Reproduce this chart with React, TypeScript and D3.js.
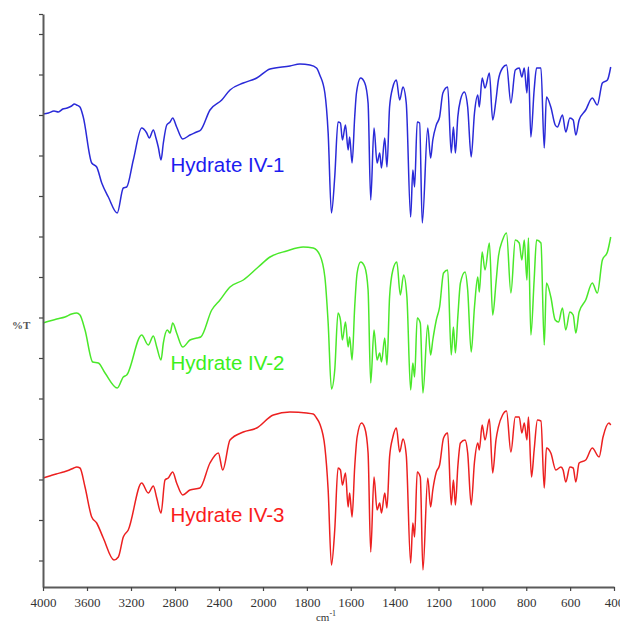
import React, { useEffect, useRef } from 'react';
import * as d3 from 'd3';

const W = 620;
const H = 623;

const xTicks = [4000, 3600, 3200, 2800, 2400, 2000, 1800, 1600, 1400, 1200, 1000, 800, 600, 400];
const seriesNames = ['Hydrate IV-1', 'Hydrate IV-2', 'Hydrate IV-3'];
const lineColors = ['#2a2ad8', '#4ae82a', '#ec2020'];
const textColors = ['#1c1cf0', '#3cf01c', '#fa1c1c'];

// [wavenumber (cm-1), %T (arbitrary, stacked)]
const spectrum1: [number, number][] = [
  [4000,473],[3950,474],[3900,476],[3860,475],[3820,478],[3780,479],[3740,481],[3715,483],[3694,482],[3664,480],[3634,470],[3557,424],[3512,420],[3466,404],[3406,390],[3325,374],[3270,399],[3239,400],[3179,427],[3103,459],[3057,454],[3034,449],[2997,457],[2973,449],[2952,440],[2927,427],[2906,444],[2875,462],[2845,465],[2821,469],[2785,460],[2730,448],[2664,452],[2603,455],[2566,457],[2482,477],[2375,487],[2300,497],[2179,504],[2057,509],[1968,518],[1877,521],[1832,523],[1786,522],[1756,519],[1741,512],[1718,494],[1703,454],[1688,374],[1673,410],[1658,465],[1647,464],[1638,447],[1624,462],[1612,437],[1605,450],[1594,424],[1582,470],[1574,494],[1555,509],[1536,504],[1521,484],[1509,387],[1494,459],[1480,424],[1468,434],[1460,419],[1445,449],[1435,420],[1423,480],[1408,500],[1392,507],[1377,487],[1362,500],[1347,484],[1327,370],[1317,417],[1309,400],[1297,465],[1286,464],[1274,364],[1249,459],[1236,429],[1226,447],[1210,462],[1195,470],[1180,494],[1158,500],[1142,434],[1132,460],[1123,434],[1112,470],[1100,487],[1082,495],[1067,480],[1051,430],[1036,474],[1021,492],[1014,480],[1001,509],[988,499],[968,514],[953,467],[938,487],[927,507],[908,519],[890,522],[870,484],[850,517],[832,519],[820,510],[809,519],[797,494],[790,520],[779,450],[764,497],[753,519],[733,519],[718,439],[708,490],[688,480],[668,462],[658,460],[635,472],[620,455],[601,469],[586,467],[574,452],[559,467],[529,477],[499,489],[476,482],[453,504],[430,507],[415,520]
];

const spectrum2: [number, number][] = [
  [4000,264],[3940,266],[3875,268],[3800,270],[3740,273],[3694,274],[3664,272],[3618,257],[3548,225],[3497,224],[3436,214],[3325,199],[3270,210],[3239,212],[3103,252],[3043,242],[2997,251],[2966,240],[2927,227],[2906,244],[2870,257],[2845,254],[2821,264],[2785,254],[2730,240],[2664,247],[2603,249],[2566,250],[2466,277],[2391,287],[2300,300],[2179,307],[2043,320],[1968,330],[1892,336],[1817,340],[1771,339],[1741,332],[1718,310],[1703,264],[1688,198],[1673,217],[1658,274],[1647,267],[1638,247],[1624,265],[1612,240],[1605,250],[1594,227],[1582,280],[1571,314],[1555,325],[1536,320],[1521,297],[1509,204],[1494,257],[1480,227],[1468,234],[1460,225],[1445,249],[1435,222],[1423,290],[1408,317],[1390,325],[1374,292],[1359,312],[1344,290],[1327,197],[1317,224],[1309,210],[1297,269],[1283,264],[1271,194],[1249,262],[1236,232],[1226,247],[1210,267],[1195,280],[1177,314],[1158,317],[1142,232],[1132,260],[1123,234],[1112,270],[1100,304],[1079,315],[1067,297],[1051,235],[1036,280],[1021,310],[1014,295],[1001,335],[988,317],[968,344],[953,272],[938,304],[927,330],[908,347],[890,354],[870,294],[850,347],[832,344],[820,327],[809,347],[797,307],[790,349],[779,252],[764,307],[753,347],[733,344],[718,242],[708,304],[688,290],[668,267],[653,265],[635,279],[620,257],[601,275],[586,272],[574,254],[559,275],[529,287],[499,304],[476,294],[453,327],[430,335],[415,350]
];

const spectrum3: [number, number][] = [
  [4000,109],[3940,111],[3880,113],[3815,115],[3760,117],[3720,119],[3694,120],[3664,119],[3618,100],[3557,70],[3512,64],[3452,49],[3355,27],[3315,30],[3270,50],[3225,57],[3103,104],[3043,94],[2997,101],[2966,89],[2927,74],[2891,107],[2861,109],[2821,115],[2785,104],[2730,92],[2664,97],[2573,99],[2482,124],[2406,134],[2366,117],[2300,147],[2179,155],[2057,159],[1953,172],[1877,175],[1801,174],[1771,173],[1756,169],[1741,163],[1718,140],[1703,97],[1688,22],[1673,57],[1658,119],[1647,117],[1638,102],[1624,114],[1612,80],[1605,94],[1594,70],[1582,120],[1571,150],[1551,164],[1536,159],[1521,134],[1509,35],[1494,110],[1480,77],[1468,84],[1460,74],[1445,94],[1435,79],[1423,130],[1408,150],[1392,159],[1377,135],[1362,148],[1347,132],[1327,24],[1317,64],[1309,50],[1297,115],[1283,110],[1271,17],[1249,109],[1236,80],[1226,97],[1210,115],[1195,122],[1177,149],[1158,154],[1142,82],[1132,107],[1123,82],[1112,120],[1100,144],[1079,147],[1067,134],[1051,82],[1036,125],[1021,144],[1014,137],[1001,162],[988,147],[968,168],[953,114],[938,147],[927,160],[908,172],[890,176],[870,135],[850,170],[832,170],[820,154],[809,164],[797,147],[790,170],[776,110],[764,137],[749,167],[733,166],[718,99],[708,139],[688,134],[665,117],[642,120],[632,117],[620,105],[601,120],[586,119],[574,105],[559,124],[529,127],[499,139],[468,130],[450,150],[423,164],[415,162]
];

const spectra = [spectrum1, spectrum2, spectrum3];
const labelPos: [number, number][] = [[170.5, 171.5], [170.5, 369.5], [170.5, 522]];

export default function App() {
  const ref = useRef<SVGSVGElement>(null);

  useEffect(() => {
    const svg = d3.select(ref.current);
    svg.selectAll('*').remove();

    const x = d3.scaleLinear().domain([4000, 2000, 400]).range([43, 263, 614]);
    const y = d3.scaleLinear().domain([0, 573]).range([587, 14]);
    const yTicks = d3.range(26.5, 560, 40.5).concat([573]);

    const line = d3
      .line<[number, number]>()
      .x((d) => x(d[0]))
      .y((d) => y(d[1]))
      .curve(d3.curveMonotoneX);

    spectra.forEach((s, i) => {
      svg
        .append('path')
        .datum(s)
        .attr('d', line)
        .attr('fill', 'none')
        .attr('stroke', lineColors[i])
        .attr('stroke-width', 1.5)
        .attr('stroke-linejoin', 'round');
    });

    // y axis
    const yAxis = svg
      .append('g')
      .attr('transform', `translate(${x(4000)},0)`)
      .call(d3.axisLeft(y).tickValues(yTicks).tickSize(4).tickSizeOuter(0).tickFormat(() => ''));
    yAxis.select('.domain').attr('stroke', '#5a5a5a').attr('stroke-width', 2);
    yAxis.selectAll('.tick line').attr('stroke', '#444').attr('stroke-width', 1.2);

    // x axis
    const xAxis = svg
      .append('g')
      .attr('transform', `translate(0,${y(0)})`)
      .call(
        d3
          .axisBottom(x)
          .tickValues(xTicks)
          .tickSize(4)
          .tickSizeOuter(0)
          .tickPadding(7)
          .tickFormat(d3.format('d'))
      );
    xAxis.select('.domain').attr('stroke', '#5a5a5a').attr('stroke-width', 2);
    xAxis.selectAll('.tick line').attr('stroke', '#444').attr('stroke-width', 1.2);
    xAxis
      .selectAll('.tick text')
      .attr('fill', '#333')
      .attr('font-family', '"Liberation Serif", "Times New Roman", serif')
      .attr('font-size', 13);

    // axis titles
    const xt = svg
      .append('text')
      .attr('x', 326)
      .attr('y', 621)
      .attr('text-anchor', 'middle')
      .attr('font-family', '"Liberation Serif", "Times New Roman", serif')
      .attr('font-size', 11)
      .attr('fill', '#333');
    xt.append('tspan').text('cm');
    xt.append('tspan').attr('dy', -5).attr('font-size', 8).text('-1');

    svg
      .append('text')
      .attr('x', 12)
      .attr('y', 329)
      .attr('font-family', '"Liberation Serif", "Times New Roman", serif')
      .attr('font-size', 11)
      .attr('font-weight', 'bold')
      .attr('fill', '#555')
      .text('%T');

    // series labels
    seriesNames.forEach((n, i) => {
      svg
        .append('text')
        .attr('x', labelPos[i][0])
        .attr('y', labelPos[i][1])
        .attr('font-family', '"Liberation Sans", Arial, sans-serif')
        .attr('font-size', 20.5)
        .attr('fill', textColors[i])
        .text(n);
    });
  }, []);

  return (
    <svg
      ref={ref}
      width={W}
      height={H}
      style={{ position: 'absolute', left: 0, top: 0, background: '#fff' }}
    />
  );
}
